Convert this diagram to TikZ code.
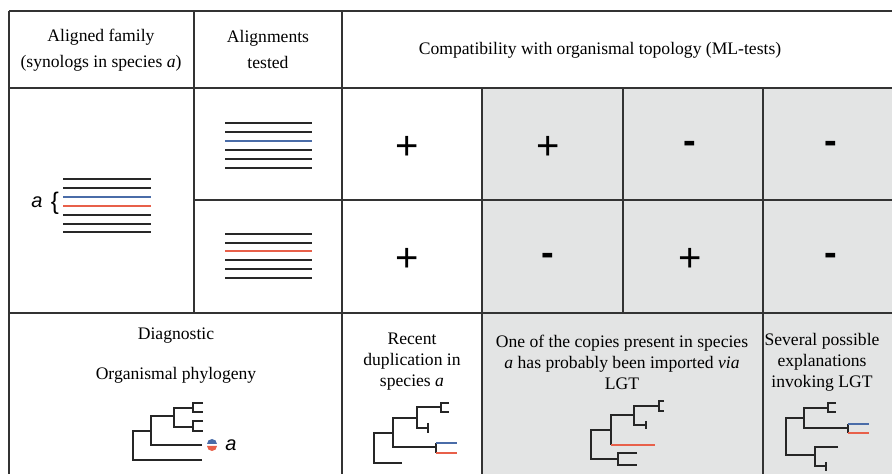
\documentclass[tikz,border=0pt]{standalone}
\usepackage{fontspec}
\setmainfont{Liberation Serif}
\newfontfamily\sansfont{Liberation Sans}
\usetikzlibrary{positioning}
\definecolor{cellgray}{RGB}{227,228,228}
\definecolor{seqblue}{RGB}{74,108,168}
\definecolor{seqred}{RGB}{232,96,74}
\definecolor{seqblack}{RGB}{40,40,40}

\begin{document}
\begin{tikzpicture}[x=0.5pt, y=-0.5pt,
headnode/.style={align=center, font=\fontsize{8.8}{13}\selectfont, inner sep=0pt},
textnode/.style={align=center, font=\fontsize{8.8}{10.5}\selectfont, inner sep=0pt},
signnode/.style={font=\sansfont\fontsize{20}{20}\selectfont, inner sep=0pt},
minusnode/.style={font=\sansfont\bfseries\fontsize{19}{19}\selectfont, inner sep=0pt},
labelnode/.style={font=\sansfont\itshape\fontsize{10}{10}\selectfont, inner sep=0pt},
gridline/.style={black!80, line width=1pt},
seqline/.style={seqblack, line width=1pt},
treeline/.style={black!85, line width=0.85pt},
]
\useasboundingbox (0,0) rectangle (892,474);

%Background
\fill[cellgray] (482,88) rectangle (892,474);

%Lines
\draw[gridline] (9,11) -- (892,11);
\draw[gridline] (9,88) -- (892,88);
\draw[gridline] (194,200) -- (892,200);
\draw[gridline] (9,313) -- (892,313);
\draw[gridline] (9,11) -- (9,474);
\draw[gridline] (194,11) -- (194,313);
\draw[gridline] (342,11) -- (342,474);
\draw[gridline] (482,88) -- (482,474);
\draw[gridline] (623,88) -- (623,313);
\draw[gridline] (763,88) -- (763,474);

%Nodes
\node[headnode] (famhead)  at (101,50) {Aligned family\\(synologs in species \emph{a})};
\node[headnode] (alnhead)  at (268,49) {Alignments\\tested};
\node[headnode] (comphead) at (600,50) {Compatibility with organismal topology (ML-tests)};

\node[signnode]  (plusA)  at (407,148) {+};
\node[signnode]  (plusB)  at (548,148) {+};
\node[minusnode] (minusC) at (690,147) {-};
\node[minusnode] (minusD) at (831,147) {-};
\node[signnode]  (plusE)  at (407,260) {+};
\node[minusnode] (minusF) at (548,259) {-};
\node[signnode]  (plusG)  at (690,260) {+};
\node[minusnode] (minusH) at (831,259) {-};

\node[textnode] (diag)    at (176,336) {Diagnostic};
\node[textnode] (orgphyl) at (176,375) {Organismal phylogeny};
\node[textnode] (recent)  at (412,362) {Recent\\duplication in\\species \emph{a}};
\node[textnode] (lgt)     at (622,362) {One of the copies present in species\\\emph{a} has probably been imported \emph{via}\\LGT};
\node[textnode] (several) at (822,362) {Several possible\\explanations\\invoking LGT};

\node[labelnode] (fama)  at (37,202) {a};
\node[labelnode, font=\sansfont\fontsize{12}{12}\selectfont] (fambrace) at (55,203) {\{};
\node[labelnode] (orga)  at (231,445) {a};

%Aligned family
\draw[seqline] (63,179) -- (151,179);
\draw[seqline] (63,188) -- (151,188);
\draw[seqline, seqblue] (63,197) -- (151,197);
\draw[seqline, seqred] (63,206) -- (151,206);
\draw[seqline] (63,215) -- (151,215);
\draw[seqline] (63,224) -- (151,224);
\draw[seqline] (63,232) -- (151,232);

%Alignments tested
\draw[seqline] (225,123) -- (312,123);
\draw[seqline] (225,132) -- (312,132);
\draw[seqline, seqblue] (225,141) -- (312,141);
\draw[seqline] (225,150) -- (312,150);
\draw[seqline] (225,159) -- (312,159);
\draw[seqline] (225,168) -- (312,168);
\draw[seqline] (225,234) -- (312,234);
\draw[seqline] (225,243) -- (312,243);
\draw[seqline, seqred] (225,251) -- (312,251);
\draw[seqline] (225,260) -- (312,260);
\draw[seqline] (225,269) -- (312,269);
\draw[seqline] (225,278) -- (312,278);

%Organismal phylogeny
\draw[treeline] (202,460) -- (133,460) -- (133,431) -- (151,431);
\draw[treeline] (202,445) -- (151,445) -- (151,416) -- (174,416);
\draw[treeline] (193,427) -- (174,427) -- (174,408) -- (193,408);
\draw[treeline] (203,403) -- (193,403) -- (193,412) -- (203,412);
\draw[treeline] (203,421) -- (193,421) -- (193,431) -- (203,431);
\fill[seqblue] (207,444) arc[start angle=180, end angle=360, radius=5] -- cycle;
\fill[seqred] (207,446) arc[start angle=180, end angle=0, radius=5] -- cycle;

%Recent duplication
\draw[treeline] (402,463) -- (374,463) -- (374,433) -- (393,433);
\draw[treeline] (436,447) -- (393,447) -- (393,418) -- (417,418);
\draw[treeline] (428,428) -- (417,428) -- (417,407) -- (441,407);
\draw[treeline] (428,423) -- (428,433);
\draw[treeline] (449,403) -- (441,403) -- (441,412) -- (449,412);
\draw[treeline] (436,443) -- (436,453);
\draw[treeline, seqblue] (436,443) -- (457,443);
\draw[treeline, seqred] (436,453) -- (457,453);

%LGT
\draw[treeline] (611,430) -- (591,430) -- (591,459) -- (618,459);
\draw[treeline] (634,415) -- (611,415) -- (611,445);
\draw[treeline, seqred] (611,445) -- (655,445);
\draw[treeline] (646,425) -- (634,425) -- (634,406) -- (659,406);
\draw[treeline] (646,421) -- (646,429);
\draw[treeline] (664,401) -- (659,401) -- (659,411) -- (664,411);
\draw[treeline] (637,453) -- (618,453) -- (618,465) -- (637,465);

%Several explanations
\draw[treeline] (804,418) -- (786,418) -- (786,455) -- (815,455);
\draw[treeline] (848,428) -- (804,428) -- (804,408) -- (828,408);
\draw[treeline] (836,403) -- (828,403) -- (828,412) -- (836,412);
\draw[treeline] (848,424) -- (848,433);
\draw[treeline, seqblue] (848,424) -- (869,424);
\draw[treeline, seqred] (848,433) -- (869,433);
\draw[treeline] (838,447) -- (815,447) -- (815,466) -- (826,466);
\draw[treeline] (826,462) -- (826,471);
\end{tikzpicture}
\end{document}
